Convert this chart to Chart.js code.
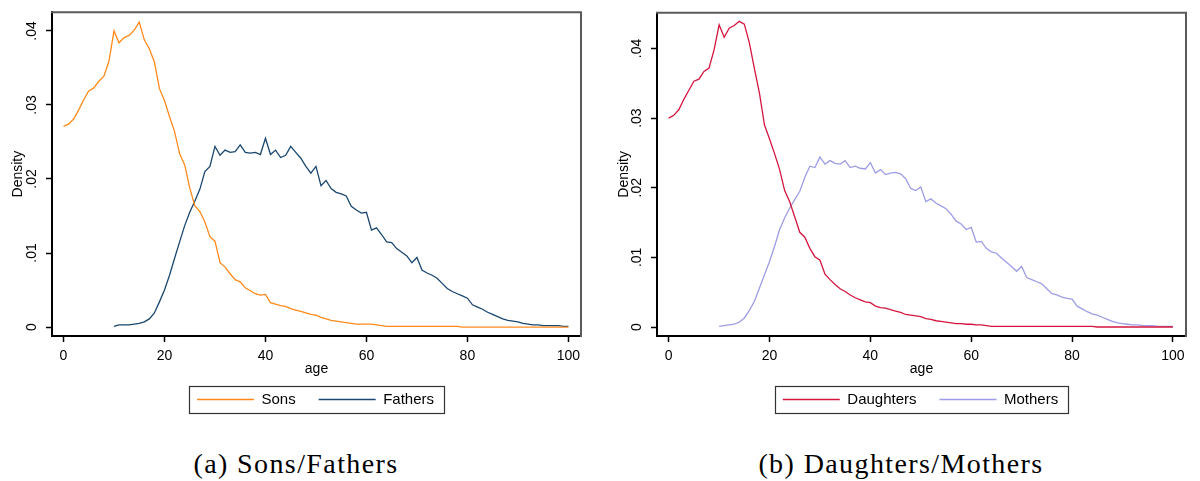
<!DOCTYPE html>
<html><head><meta charset="utf-8">
<script src="https://cdn.jsdelivr.net/npm/chart.js@4.4.1/dist/chart.umd.min.js"></script>
<style>
html,body{margin:0;padding:0;background:#fff;width:1200px;height:481px;overflow:hidden;position:relative}
.panel{position:absolute;top:0;width:600px;height:417px}
.cap{position:absolute;top:450px;line-height:28px;font-family:"Liberation Serif",serif;font-size:28px;letter-spacing:1.4px;white-space:nowrap;transform:translateX(-50%);color:#000}
</style></head><body>
<div class="panel" style="left:0"><canvas id="c1" width="600" height="417" style="width:600px;height:417px"></canvas></div>
<div class="panel" style="left:600px"><canvas id="c2" width="600" height="417" style="width:600px;height:417px"></canvas></div>
<div class="cap" style="left:296px">(a) Sons/Fathers</div>
<div class="cap" style="left:901px">(b) Daughters/Mothers</div>
<script>
const ages = [0,1,2,3,4,5,6,7,8,9,10,11,12,13,14,15,16,17,18,19,20,21,22,23,24,25,26,27,28,29,30,31,32,33,34,35,36,37,38,39,40,41,42,43,44,45,46,47,48,49,50,51,52,53,54,55,56,57,58,59,60,61,62,63,64,65,66,67,68,69,70,71,72,73,74,75,76,77,78,79,80,81,82,83,84,85,86,87,88,89,90,91,92,93,94,95,96,97,98,99,100];
const sons = [
.0271,.0274,.0281,.0293,.0307,.0319,.0323,.0332,.0339,.0359,
.0400,.0384,.0391,.0394,.0401,.0412,.0388,.0376,.0358,.0322,
.0306,.0284,.0264,.0234,.0219,.0188,.0164,.0156,.0142,.0122,
.0116,.0087,.0081,.0072,.0064,.0061,.0053,.0049,.0045,.0043,
.0044,.0033,.0031,.0029,.0028,.0025,.0023,.0021,.0019,.0017,
.0016,.0013,.0011,.0009,.0008,.0007,.0006,.0005,.0004,.0004,
.0004,.0004,.0003,.0002,.0001,.0001,.0001,.0001,.0001,.0001,
.0001,.0001,.0001,.0001,.0001,.0001,.0001,.0001,.0001,0,
0,0,0,0,0,0,0,0,0,0,
0,0,0,0,0,0,0,0,0,0,
0];
const fathers = [
null,null,null,null,null,null,null,null,null,null,
.0001,.0003,.0003,.0003,.0004,.0005,.0007,.0011,.0019,.0034,
.0050,.0070,.0093,.0115,.0137,.0155,.0170,.0186,.0210,.0217,
.0244,.0232,.0239,.0236,.0237,.0246,.0236,.0235,.0236,.0233,
.0255,.0233,.0239,.0229,.0232,.0244,.0236,.0228,.0217,.0208,
.0217,.0191,.0198,.0187,.0182,.0180,.0177,.0163,.0158,.0154,
.0155,.0131,.0134,.0125,.0115,.0114,.0106,.0101,.0096,.0087,
.0094,.0077,.0073,.0070,.0066,.0059,.0052,.0048,.0045,.0042,
.0039,.0030,.0027,.0024,.0020,.0017,.0014,.0011,.0009,.0008,
.0007,.0005,.0004,.0003,.0003,.0002,.0002,.0002,.0002,.0001,
.0001];
const daughters = [
.0300,.0304,.0312,.0327,.0340,.0353,.0356,.0367,.0372,.0398,
.0434,.0416,.0429,.0433,.0439,.0435,.0408,.0371,.0336,.0290,
.0270,.0249,.0226,.0196,.0180,.0158,.0136,.0129,.0113,.0101,
.0096,.0076,.0068,.0061,.0055,.0051,.0046,.0042,.0039,.0036,
.0035,.0030,.0028,.0027,.0025,.0023,.0021,.0018,.0017,.0016,
.0015,.0012,.0011,.0009,.0008,.0007,.0006,.0005,.0005,.0004,
.0004,.0003,.0003,.0002,.0001,.0001,.0001,.0001,.0001,.0001,
.0001,.0001,.0001,.0001,.0001,.0001,.0001,.0001,.0001,.0001,
.0001,.0001,.0001,.0001,.0001,0,0,0,0,0,
0,0,0,0,0,0,0,0,0,0,
0];
const mothers = [
null,null,null,null,null,null,null,null,null,null,
.0001,.0002,.0003,.0004,.0007,.0013,.0024,.0037,.0056,.0075,
.0094,.0116,.0140,.0157,.0171,.0183,.0195,.0215,.0231,.0229,
.0244,.0234,.0239,.0235,.0234,.0239,.0229,.0231,.0228,.0227,
.0236,.0221,.0226,.0219,.0221,.0222,.0220,.0213,.0199,.0196,
.0201,.0180,.0184,.0178,.0174,.0170,.0162,.0152,.0148,.0140,
.0143,.0122,.0123,.0113,.0108,.0106,.0099,.0093,.0087,.0080,
.0087,.0071,.0068,.0065,.0062,.0055,.0048,.0046,.0043,.0041,
.0040,.0030,.0026,.0022,.0019,.0017,.0014,.0011,.0008,.0006,
.0005,.0004,.0003,.0003,.0002,.0002,.0002,.0001,.0001,.0001,
.0001];
const xTicks = [0,20,40,60,80,100];
const yTicks = [0,0.01,0.02,0.03,0.04];
const yTickLabels = ['0','.01','.02','.03','.04'];
const seriesLabelsA = ['Sons','Fathers'];
const seriesLabelsB = ['Daughters','Mothers'];

const FONT = {family:'"Liberation Sans", Arial, sans-serif', size:14};
const LEGEND_FONT = {family:'"Liberation Sans", Arial, sans-serif', size:15};
const LEGEND_PAD = 23;

function pts(vals){
  const out=[];
  for(let i=0;i<ages.length;i++){ if(vals[i]!==null) out.push({x:ages[i], y:vals[i]}); }
  return out;
}

const framePlugin = {
  id:'frame',
  afterLayout(chart){
    const lg = chart.legend, a = chart.chartArea;
    if(!lg) return;
    const target = (a.left + a.right)/2 - 1;
    const cur = (lg.left + lg.right)/2;
    const shift = target - cur;
    lg.left += shift; lg.right += shift;
  },
  afterDraw(chart){
    const {ctx, chartArea:a} = chart;
    ctx.save();
    ctx.strokeStyle='#5a5a5a'; ctx.lineWidth=2;
    ctx.beginPath(); ctx.moveTo(a.left-1,a.top); ctx.lineTo(a.right,a.top); ctx.lineTo(a.right,a.bottom+1); ctx.stroke();
    const hb = chart.legend.legendHitBoxes;
    if(hb && hb.length){
      const l = hb[0].left-8, last = hb[hb.length-1];
      const r = last.left+last.width+10;
      const t = hb[0].top + hb[0].height/2 - 13.5;
      ctx.strokeStyle='#333'; ctx.lineWidth=1.2;
      ctx.strokeRect(Math.round(l)+0.5, Math.round(t)+0.5, Math.round(r-l), 27);
    }
    ctx.restore();
  }
};

function makeChart(id, c){
  const grid = {display:true, drawOnChartArea:false, drawTicks:true, tickLength:6, tickColor:'#000', tickWidth:1.5};
  return new Chart(document.getElementById(id), {
    type:'line',
    data:{datasets: c.series.map(s=>({label:s.label, data:pts(s.values), borderColor:s.color, backgroundColor:s.color, borderWidth:1.3, pointRadius:0, fill:false, tension:0, spanGaps:false}))},
    options:{
      responsive:false, animation:false, events:[],
      layout:{padding:{top:11, right:c.padRight, bottom:0, left:0}},
      plugins:{
        tooltip:{enabled:false},
        legend:{position:'bottom', labels:{boxWidth:57, boxHeight:1.5, padding:LEGEND_PAD, font:LEGEND_FONT, color:'#000',
          generateLabels:(ch)=>Chart.defaults.plugins.legend.labels.generateLabels(ch).map(l=>Object.assign(l,{lineWidth:0}))}}
      },
      scales:{
        x:{type:'linear', min:c.xmin, max:c.xmax,
          afterBuildTicks:s=>{s.ticks = xTicks.map(v=>({value:v}));},
          afterFit:s=>{s.height=33;},
          grid:grid, border:{display:true,color:'#000',width:2},
          ticks:{font:FONT,color:'#000',padding:5.5,maxRotation:0,autoSkip:false,callback:v=>String(v)},
          title:{display:true,text:'age',font:FONT,color:'#000',padding:{top:0,bottom:-9}}},
        y:{type:'linear', min:c.ymin, max:c.ymax,
          afterBuildTicks:s=>{s.ticks = yTicks.map(v=>({value:v}));},
          afterFit:s=>{s.width=c.yWidth;},
          grid:grid, border:{display:true,color:'#000',width:2},
          ticks:{font:FONT,color:'#000',padding:c.yPad,minRotation:90,maxRotation:90,crossAlign:'center',autoSkip:false,
            callback:v=>{const i=yTicks.indexOf(v); return i>=0?yTickLabels[i]:'';}},
          title:{display:true,text:'Density',font:FONT,color:'#000',padding:{top:c.titlePad,bottom:0}}}
      }
    },
    plugins:[framePlugin]
  });
}

makeChart('c1', {
  series:[{label:seriesLabelsA[0], values:sons, color:'#ff8a1c'},{label:seriesLabelsA[1], values:fathers, color:'#1a476f'}],
  xmin:-2.28, xmax:102.5, ymin:-0.00121, ymax:0.04253,
  yWidth:52, padRight:19, yPad:3.8, titlePad:9.6
});
makeChart('c2', {
  series:[{label:seriesLabelsB[0], values:daughters, color:'#d4163f'},{label:seriesLabelsB[1], values:mothers, color:'#9d9de6'}],
  xmin:-2.32, xmax:102.6, ymin:-0.00129, ymax:0.04514,
  yWidth:57, padRight:14, yPad:4.3, titlePad:16.1
});
</script>
</body></html>
